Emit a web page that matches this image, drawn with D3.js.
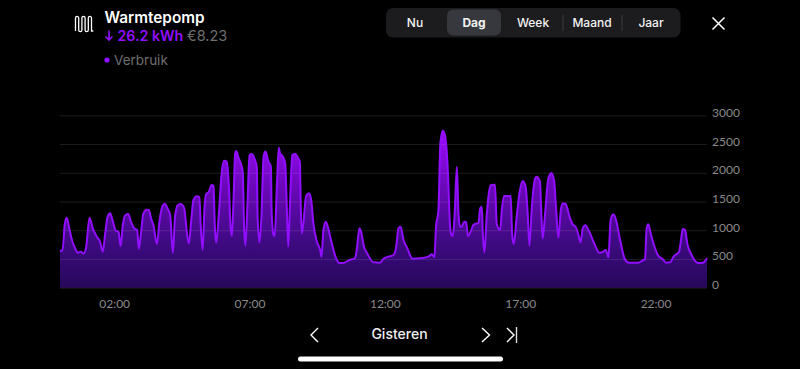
<!DOCTYPE html>
<html><head><meta charset="utf-8">
<style>html,body{margin:0;padding:0;background:#000;overflow:hidden}svg{display:block}text{font-family:Inter,Roboto,sans-serif}.ax text{font-family:Lato,Inter,sans-serif}</style>
<script src="https://cdn.jsdelivr.net/npm/d3@7/dist/d3.min.js"></script>
</head><body><svg id="c" width="800" height="369"></svg>
<script>
const hours=[0,.09,.18,.25,.33,.44,.56,.66,.77,.87,.96,1.09,1.21,1.36,1.48,1.58,1.67,1.76,1.85,1.94,2.06,2.16,2.24,2.32,2.42,2.52,2.62,2.74,2.85,2.91,2.99,3.08,3.21,3.28,3.37,3.45,3.58,3.68,3.78,3.87,3.97,4.07,4.17,4.25,4.35,4.46,4.59,4.69,4.76,4.86,4.93,5.06,5.15,5.2,5.27,5.34,5.4,5.5,5.6,5.67,5.72,5.77,5.87,5.97,6.06,6.16,6.24,6.3,6.35,6.41,6.47,6.51,6.6,6.68,6.75,6.8,6.85,6.93,7,7.09,7.21,7.27,7.3,7.37,7.44,7.52,7.59,7.7,7.79,7.82,7.89,7.93,8.01,8.08,8.13,8.23,8.32,8.37,8.43,8.5,8.58,8.69,8.78,8.86,8.89,8.93,8.99,9.09,9.2,9.28,9.36,9.49,9.61,9.66,9.73,9.82,9.89,10.04,10.2,10.32,10.47,10.66,10.9,10.96,11.06,11.12,11.23,11.36,11.58,11.82,11.95,12.13,12.32,12.42,12.5,12.58,12.69,12.83,13.02,13.3,13.61,13.74,13.83,13.89,13.98,14.05,14.14,14.22,14.32,14.41,14.46,14.51,14.58,14.66,14.72,14.78,14.84,14.93,15,15.07,15.17,15.27,15.46,15.52,15.58,15.62,15.68,15.76,15.85,15.92,16.07,16.13,16.19,16.26,16.32,16.4,16.65,16.7,16.76,16.87,16.97,17.09,17.2,17.27,17.34,17.43,17.55,17.61,17.73,17.78,17.83,17.92,18.04,18.15,18.25,18.32,18.41,18.5,18.57,18.68,18.82,18.93,19.06,19.15,19.23,19.31,19.41,19.52,19.76,19.92,20.05,20.16,20.26,20.34,20.44,20.54,20.69,20.87,21.02,21.36,21.55,21.61,21.67,21.73,21.82,21.94,22.1,22.26,22.39,22.53,22.68,22.87,22.94,23,23.09,23.17,23.33,23.58,23.76,23.9];
const watts=[644,644,1120,1219,1062,830,685,609,627,592,685,1219,1033,888,800,627,946,1236,1294,1178,992,975,725,1091,1265,1282,1149,1033,1004,673,946,1294,1358,1352,1195,1091,760,1178,1410,1462,1381,1265,604,1236,1433,1457,1381,946,772,1236,1526,1590,1573,1062,656,1410,1625,1671,1787,1770,1062,783,1294,1990,2211,2193,1758,1062,900,1526,2339,2379,2252,2164,2019,1062,731,1526,2310,2327,2211,2106,1236,789,1236,2281,2368,2193,2106,1294,917,900,1758,2437,2339,2281,2164,1526,714,1526,2310,2333,2269,2193,1526,946,1120,1596,1642,1526,1120,800,656,540,1004,1149,1062,772,511,429,429,476,516,656,1033,975,714,586,441,435,505,540,569,714,1033,1062,830,685,505,511,540,580,528,1062,1352,2513,2733,2658,2106,1062,917,900,1294,2106,1294,1062,1062,1149,1143,900,975,1091,1132,1381,1410,946,615,1236,1671,1787,1793,1120,1033,1004,1352,1596,1596,946,760,1236,1642,1857,1758,1352,731,1410,1903,1932,1845,1294,853,1294,1903,1996,1874,1410,870,1352,1468,1457,1236,1108,1050,917,789,1033,1085,1004,743,609,621,656,528,1178,1277,1178,830,493,435,435,482,493,1033,1103,946,743,557,499,435,441,551,627,830,1021,1004,772,569,429,435,511];
const yTicks=[0,500,1000,1500,2000,2500,3000];
const xTickHours=[2,7,12,17,22];
const xTickLabels=["02:00","07:00","12:00","17:00","22:00"];
const tabs=["Nu","Dag","Week","Maand","Jaar"];
const titleText="Warmtepomp",usageText="26.2 kWh",costText="€8.23",legendText="Verbruik",navText="Gisteren";

const svg=d3.select("#c");
const x=d3.scaleLinear().domain([0,23.9]).range([60,707]);
const y=d3.scaleLinear().domain([0,3000]).range([287.7,115.3]);
const pts=hours.map((h,i)=>({h,v:watts[i]}));

const defs=svg.append("defs");
const g=defs.append("linearGradient").attr("id","fill").attr("gradientUnits","userSpaceOnUse")
 .attr("x1",0).attr("x2",0).attr("y1",y(2700)).attr("y2",y(0));
g.append("stop").attr("offset",0).attr("stop-color","#9a0cf8");
g.append("stop").attr("offset",.35).attr("stop-color","#6a08b8");
g.append("stop").attr("offset",.7).attr("stop-color","#3f0a82");
g.append("stop").attr("offset",1).attr("stop-color","#26085a");

svg.append("path").datum(pts).attr("fill","url(#fill)")
 .attr("d",d3.area().x(d=>x(d.h)).y0(y(0)).y1(d=>y(d.v)).curve(d3.curveMonotoneX));

const yAxis=svg.append("g").attr("class","ax").attr("transform","translate(707,0)")
 .call(d3.axisRight(y).tickValues(yTicks).tickSize(-647).tickPadding(5).tickFormat(d3.format("d")));
yAxis.select(".domain").remove();
yAxis.selectAll("line").attr("stroke","#fff").attr("stroke-opacity",.11).attr("stroke-width",1);
yAxis.selectAll("text").attr("fill","#8a8a8a").attr("font-size",12).attr("dy","0.08em").attr("text-anchor","start");

const xAxis=svg.append("g").attr("class","ax").attr("transform","translate(0,287.7)")
 .call(d3.axisBottom(x).tickValues(xTickHours).tickSize(0).tickPadding(12).tickFormat((d,i)=>xTickLabels[i]));
xAxis.select(".domain").remove();
xAxis.selectAll("text").attr("fill","#8a8a8a").attr("font-size",12);

svg.append("path").datum(pts).attr("fill","none").attr("stroke","#920eff").attr("stroke-width",2)
 .attr("stroke-linejoin","round")
 .attr("d",d3.line().x(d=>x(d.h)).y(d=>y(d.v)).curve(d3.curveMonotoneX));

// header
svg.append("path").attr("fill","none").attr("stroke","#fff").attr("stroke-width",1.3)
 .attr("d","M75.5 31V18a1.6 1.6 0 0 1 3.2 0V30a1.6 1.6 0 0 0 3.2 0V18a1.6 1.6 0 0 1 3.2 0V30a1.6 1.6 0 0 0 3.2 0V18a1.6 1.6 0 0 1 3.2 0V31h1.8");
svg.append("text").attr("x",104.5).attr("y",23).attr("fill","#fff").attr("font-size",15.3).attr("font-weight",600).text(titleText);
svg.append("path").attr("fill","none").attr("stroke","#920eff").attr("stroke-width",1.6)
 .attr("d","M109 30.5V40M105.5 36.5L109 40L112.5 36.5");
svg.append("text").attr("x",117.5).attr("y",41).attr("fill","#920eff").attr("font-size",14.2).attr("font-weight",600).text(usageText);
svg.append("text").attr("x",187).attr("y",41).attr("fill","#6e6e6e").attr("font-size",14.5).text(costText);
svg.append("circle").attr("cx",107).attr("cy",60).attr("r",2.6).attr("fill","#920eff");
svg.append("text").attr("x",114).attr("y",65).attr("fill","#6e6e6e").attr("font-size",13.5).text(legendText);

// tabs
svg.append("rect").attr("x",386).attr("y",8).attr("width",294.5).attr("height",29.5).attr("rx",7).attr("fill","#1c1c1e");
svg.append("rect").attr("x",447).attr("y",9.5).attr("width",54).attr("height",26).attr("rx",6).attr("fill","#36383e");
const tabX=[415,474,533,592,651];
tabs.forEach((t,i)=>svg.append("text").attr("x",tabX[i]).attr("y",27).attr("text-anchor","middle")
  .attr("fill","#f2f2f2").attr("font-size",12).attr("font-weight",i==1?700:500).text(t));
[563,622].forEach(sx=>svg.append("line").attr("x1",sx).attr("x2",sx).attr("y1",15).attr("y2",31).attr("stroke","#3a3a3c"));
svg.append("path").attr("stroke","#fff").attr("stroke-width",1.5).attr("fill","none").attr("d","M712.5 17.5L724.5 29.5M724.5 17.5L712.5 29.5");

// footer nav
svg.append("text").attr("x",399.5).attr("y",339).attr("text-anchor","middle").attr("fill","#eee").attr("font-size",14).attr("font-weight",500).text(navText);
svg.append("path").attr("stroke","#fff").attr("stroke-width",1.4).attr("fill","none")
 .attr("d","M318 328L311 335L318 342M482 328L489.5 335L482 342M507 328L514 335L507 342");
svg.append("line").attr("x1",516.5).attr("x2",516.5).attr("y1",327).attr("y2",343).attr("stroke","#ddd").attr("stroke-width",1.4);
svg.append("rect").attr("x",298).attr("y",356.5).attr("width",205).attr("height",5).attr("rx",2.5).attr("fill","#fff");
</script></body></html>
